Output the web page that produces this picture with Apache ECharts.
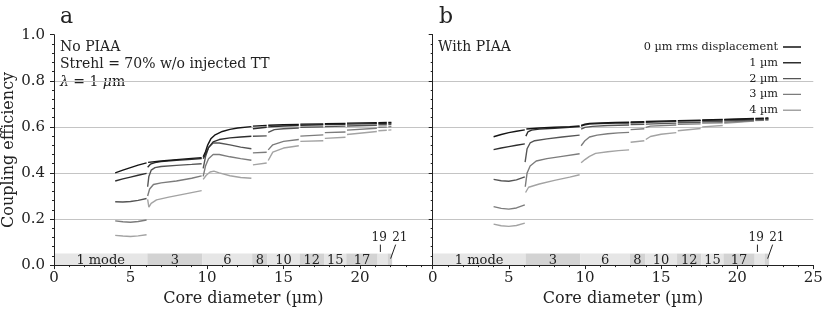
<!DOCTYPE html>
<html><head><meta charset="utf-8">
<script src="https://cdn.jsdelivr.net/npm/echarts@6/dist/echarts.min.js"></script>
<style>html,body{margin:0;padding:0;background:#fff}#c{width:831px;height:312px}</style>
</head><body><div id="c"></div>
<script>
const FONT = '"DejaVu Serif"';
const seriesNames = ['0 µm rms displacement', '1 µm', '2 µm', '3 µm', '4 µm'];
const lineColors = ['#151515', '#2e2e2e', '#555555', '#7c7c7c', '#a3a3a3'];
const xTicks = [0, 5, 10, 15, 20, 25];
const yTicks = [0, 0.2, 0.4, 0.6, 0.8, 1.0];

// mode bands (core diameter ranges, µm)
const modeStarts = [0, 6.1, 9.7, 12.95, 13.95, 16.05, 17.65, 19.1, 21.15, 21.8];
const modeEnds   = [6.1, 9.7, 12.95, 13.95, 16.05, 17.65, 19.1, 21.15, 21.8, 22.1];
const modeLabels = ['1 mode', '3', '6', '8', '10', '12', '15', '17', '', ''];
const bandTop = 0.05;
const calloutLabels = ['19', '21'];
const calloutText = [[21.25, 0.118], [22.6, 0.118]];
const calloutLines = [[21.33, 0.089, 21.33, 0.057], [22.33, 0.089, 22.0, 0.028]];

// Panel a: No PIAA  (segments between mode cutoffs)
const noPiaa0 = [
  [[4,.400],[4.5,.412],[5,.423],[5.5,.434],[6.05,.444]],
  [[6.15,.446],[7,.452],[8,.458],[9,.463],[9.65,.466]],
  [[9.75,.470],[9.9,.492],[10.05,.522],[10.25,.548],[10.5,.564],[11,.580],[11.5,.589],[12,.595],[12.9,.601]],
  [[13,.603],[13.9,.606]],
  [[14,.607],[15,.609],[16,.611]],
  [[16.1,.612],[17.6,.613]],
  [[17.7,.614],[19.05,.615]],
  [[19.15,.616],[21.1,.618]],
  [[21.2,.618],[21.75,.619]],
  [[21.85,.619],[22.05,.619]]
];
const noPiaa1 = [
  [[4,.365],[4.5,.374],[5,.382],[5.5,.390],[6.05,.398]],
  [[6.12,.425],[6.3,.438],[6.6,.445],[7,.449],[8,.455],[9,.459],[9.65,.462]],
  [[9.75,.462],[9.9,.480],[10.1,.510],[10.4,.535],[10.8,.545],[11.5,.552],[12.2,.556],[12.9,.559]],
  [[13,.592],[13.9,.598]],
  [[14,.600],[15,.604],[16,.606]],
  [[16.1,.607],[17.6,.609]],
  [[17.7,.610],[19.05,.611]],
  [[19.15,.612],[21.1,.614]],
  [[21.2,.615],[21.75,.615]],
  [[21.85,.616],[22.05,.616]]
];
const noPiaa2 = [
  [[4,.275],[4.5,.274],[5,.276],[5.5,.281],[6.05,.289]],
  [[6.12,.340],[6.2,.385],[6.35,.412],[6.6,.423],[7,.428],[8,.433],[9,.437],[9.65,.440]],
  [[9.75,.420],[9.9,.470],[10.1,.510],[10.4,.530],[10.8,.530],[11.5,.522],[12.2,.512],[12.9,.505]],
  [[13,.559],[13.9,.561]],
  [[14,.576],[14.4,.588],[15,.592],[16,.595]],
  [[16.1,.598],[17.6,.600]],
  [[17.7,.601],[19.05,.603]],
  [[19.15,.604],[21.1,.607]],
  [[21.2,.609],[21.75,.609]],
  [[21.85,.610],[22.05,.610]]
];
const noPiaa3 = [
  [[4,.192],[4.5,.188],[5,.186],[5.5,.189],[6.05,.196]],
  [[6.12,.300],[6.25,.330],[6.5,.350],[7,.357],[8,.365],[9,.377],[9.65,.387]],
  [[9.75,.385],[9.9,.430],[10.1,.462],[10.4,.480],[10.8,.480],[11.5,.470],[12.2,.462],[12.9,.455]],
  [[13,.487],[13.9,.490]],
  [[14,.500],[14.3,.522],[15,.537],[16,.545]],
  [[16.1,.560],[17.6,.565]],
  [[17.7,.575],[19.05,.578]],
  [[19.15,.586],[21.1,.594]],
  [[21.2,.598],[21.75,.599]],
  [[21.85,.600],[22.05,.601]]
];
const noPiaa4 = [
  [[4,.129],[4.5,.126],[5,.124],[5.5,.127],[6.05,.132]],
  [[6.12,.285],[6.2,.252],[6.35,.268],[6.7,.283],[7.5,.295],[8.5,.308],[9.65,.323]],
  [[9.75,.372],[9.95,.390],[10.2,.404],[10.45,.408],[10.8,.400],[11.5,.388],[12.2,.380],[12.9,.377]],
  [[13,.435],[13.9,.443]],
  [[14,.454],[14.3,.490],[15,.508],[16,.518]],
  [[16.1,.537],[17.6,.540]],
  [[17.7,.550],[19.05,.555]],
  [[19.15,.567],[21.1,.580]],
  [[21.2,.583],[21.75,.585]],
  [[21.85,.586],[22.05,.587]]
];

// Panel b: With PIAA
const piaa0 = [
  [[4,.557],[4.5,.567],[5,.575],[5.5,.581],[6.05,.587]],
  [[6.15,.591],[7,.595],[8,.598],[9,.601],[9.65,.604]],
  [[9.75,.606],[10,.612],[10.3,.615],[11,.617],[12,.619],[12.9,.620]],
  [[13,.621],[13.9,.622]],
  [[14,.623],[16,.627]],
  [[16.1,.627],[17.6,.629]],
  [[17.7,.630],[19.05,.632]],
  [[19.15,.632],[21.1,.636]],
  [[21.2,.637],[21.75,.638]],
  [[21.85,.638],[22.05,.639]]
];
const piaa1 = [
  [[4,.501],[4.5,.508],[5,.514],[5.5,.520],[6.05,.526]],
  [[6.12,.560],[6.25,.578],[6.5,.586],[7,.590],[8,.594],[9,.598],[9.65,.601]],
  [[9.75,.603],[10,.609],[10.3,.612],[11,.614],[12,.616],[12.9,.617]],
  [[13,.618],[13.9,.619]],
  [[14,.620],[16,.624]],
  [[16.1,.625],[17.6,.627]],
  [[17.7,.628],[19.05,.630]],
  [[19.15,.631],[21.1,.634]],
  [[21.2,.635],[21.75,.635]],
  [[21.85,.636],[22.05,.636]]
];
const piaa2 = [
  [[4,.372],[4.5,.366],[5,.364],[5.5,.370],[6.05,.383]],
  [[6.07,.447],[6.2,.505],[6.4,.530],[6.7,.540],[7.5,.548],[8.5,.556],[9.65,.564]],
  [[9.75,.590],[10,.598],[10.5,.602],[11.5,.606],[12.9,.608]],
  [[13,.610],[13.9,.611]],
  [[14,.612],[16,.616]],
  [[16.1,.618],[17.6,.620]],
  [[17.7,.622],[19.05,.624]],
  [[19.15,.626],[21.1,.630]],
  [[21.2,.632],[21.75,.632]],
  [[21.85,.634],[22.05,.634]]
];
const piaa3 = [
  [[4,.254],[4.5,.246],[5,.243],[5.5,.248],[6.05,.261]],
  [[6.08,.340],[6.2,.400],[6.4,.430],[6.8,.452],[7.5,.462],[8.5,.472],[9.65,.483]],
  [[9.75,.518],[10,.540],[10.3,.556],[10.8,.564],[11.5,.570],[12.2,.574],[12.9,.576]],
  [[13,.588],[13.9,.592]],
  [[14,.598],[14.3,.603],[16,.608]],
  [[16.1,.611],[17.6,.613]],
  [[17.7,.616],[19.05,.618]],
  [[19.15,.620],[21.1,.626]],
  [[21.2,.629],[21.75,.629]],
  [[21.85,.631],[22.05,.631]]
];
const piaa4 = [
  [[4,.178],[4.5,.171],[5,.168],[5.5,.172],[6.05,.182]],
  [[6.1,.315],[6.3,.338],[7,.352],[8,.368],[9,.382],[9.65,.392]],
  [[9.75,.444],[10,.458],[10.3,.472],[10.7,.485],[11.5,.492],[12.2,.497],[12.9,.500]],
  [[13,.533],[13.9,.540]],
  [[14,.545],[14.3,.558],[15,.568],[16,.575]],
  [[16.1,.583],[17.6,.593]],
  [[17.7,.600],[19.05,.606]],
  [[19.15,.615],[21.1,.625]],
  [[21.2,.627],[21.75,.628]],
  [[21.85,.629],[22.05,.629]]
];

const panelA = [noPiaa0, noPiaa1, noPiaa2, noPiaa3, noPiaa4];
const panelB = [piaa0, piaa1, piaa2, piaa3, piaa4];

function flatten(segs) {
  const out = [];
  segs.forEach((s, i) => {
    if (i > 0) out.push([s[0][0], '-']);
    s.forEach(p => out.push(p));
  });
  return out;
}

const chart = echarts.init(document.getElementById('c'), null, {renderer: 'canvas'});
const axisColor = '#222';
const tickStyle = {show: true, inside: false, length: 4, lineStyle: {color: axisColor, width: 1}};
const minorStyle = {show: true, splitNumber: 5, length: 2, lineStyle: {color: axisColor, width: 1}};
const labelFont = {fontFamily: FONT, fontSize: 15, color: axisColor};

function xAxisBottom(grid, max) {
  return {
    type: 'value', gridIndex: grid, min: xTicks[0], max: max, interval: xTicks[1] - xTicks[0],
    axisLine: {show: true, onZero: false, lineStyle: {color: axisColor, width: 1}},
    axisTick: tickStyle, minorTick: minorStyle,
    axisLabel: Object.assign({margin: 6, showMaxLabel: grid === 1, formatter: v => String(v)}, labelFont),
    splitLine: {show: false},
    name: 'Core diameter (µm)', nameLocation: 'middle', nameGap: 22,
    nameTextStyle: {fontFamily: FONT, fontSize: 16, color: axisColor}, z: 3
  };
}
function frameAxisX(grid, max) {
  return {type: 'value', gridIndex: grid, position: 'top', min: 0, max: max,
    axisLine: {show: true, lineStyle: {color: axisColor, width: 1}},
    axisTick: {show: false}, axisLabel: {show: false}, splitLine: {show: false}, z: 3};
}
function yAxisMain(grid, showLabels) {
  return {
    type: 'value', gridIndex: grid, min: yTicks[0], max: yTicks[yTicks.length - 1], interval: yTicks[1] - yTicks[0],
    axisLine: {show: true, onZero: false, lineStyle: {color: axisColor, width: 1}},
    axisTick: tickStyle, minorTick: minorStyle,
    axisLabel: Object.assign({show: showLabels, margin: 9, formatter: v => v.toFixed(1)}, labelFont),
    splitLine: {show: true, showMinLine: false, showMaxLine: false, lineStyle: {color: '#c4c4c4', width: 1}},
    name: showLabels ? 'Coupling efficiency' : '', nameLocation: 'middle', nameGap: 37,
    nameTextStyle: {fontFamily: FONT, fontSize: 16, color: axisColor}, z: 3
  };
}
function frameAxisY(grid) {
  return {type: 'value', gridIndex: grid, position: 'right', min: 0, max: 1,
    axisLine: {show: true, lineStyle: {color: axisColor, width: 1}},
    axisTick: {show: false}, axisLabel: {show: false}, splitLine: {show: false}, z: 3};
}

function bandSeries(xi, yi) {
  return {
    type: 'custom', xAxisIndex: xi, yAxisIndex: yi, silent: true, z: 1,
    data: modeStarts.map((s, i) => [s, modeEnds[i], i]),
    renderItem: function (params, api) {
      const i = api.value(2);
      const p0 = api.coord([api.value(0), bandTop]);
      const p1 = api.coord([api.value(1), 0]);
      return {type: 'group', children: [
        {type: 'rect', shape: {x: p0[0], y: p0[1], width: p1[0] - p0[0], height: p1[1] - p0[1]},
          style: {fill: i % 2 ? '#d3d3d3' : '#e6e6e6'}},
        {type: 'text', x: (p0[0] + p1[0]) / 2, y: (p0[1] + p1[1]) / 2 + 1,
          style: {text: modeLabels[i], fill: axisColor, font: '13px ' + FONT, align: 'center', verticalAlign: 'middle'}}
      ]};
    }
  };
}
function calloutSeries(xi, yi) {
  return {
    type: 'custom', xAxisIndex: xi, yAxisIndex: yi, silent: true, z: 2,
    data: calloutLabels.map((l, i) => [calloutText[i][0], calloutText[i][1]].concat(calloutLines[i], [i])),
    renderItem: function (params, api) {
      const i = api.value(6);
      const t = api.coord([api.value(0), api.value(1)]);
      const a = api.coord([api.value(2), api.value(3)]);
      const b = api.coord([api.value(4), api.value(5)]);
      return {type: 'group', children: [
        {type: 'line', shape: {x1: a[0], y1: a[1], x2: b[0], y2: b[1]}, style: {stroke: axisColor, lineWidth: 1}},
        {type: 'text', x: t[0], y: t[1], style: {text: calloutLabels[i], fill: axisColor, font: '12px ' + FONT, align: 'center', verticalAlign: 'middle'}}
      ]};
    }
  };
}

const series = [bandSeries(0, 0), calloutSeries(0, 0), bandSeries(2, 1), calloutSeries(2, 1)];
panelA.forEach((segs, k) => series.push({
  name: seriesNames[k], type: 'line', xAxisIndex: 0, yAxisIndex: 0, data: flatten(segs),
  symbol: 'none', connectNulls: false, z: 4 + (4 - k),
  lineStyle: {color: lineColors[k], width: 1.4}, itemStyle: {color: lineColors[k]}
}));
panelB.forEach((segs, k) => series.push({
  name: seriesNames[k], type: 'line', xAxisIndex: 2, yAxisIndex: 1, data: flatten(segs),
  symbol: 'none', connectNulls: false, z: 4 + (4 - k),
  lineStyle: {color: lineColors[k], width: 1.4}, itemStyle: {color: lineColors[k]}
}));

chart.setOption({
  animation: false,
  backgroundColor: '#fff',
  grid: [
    {left: 53.3, top: 34.7, width: 379.4, height: 232.6},
    {left: 432.7, top: 34.7, width: 380.6, height: 232.6}
  ],
  xAxis: [xAxisBottom(0, 24.75), frameAxisX(0, 24.75), xAxisBottom(1, 25), frameAxisX(1, 25)],
  yAxis: [yAxisMain(0, true), yAxisMain(1, false), frameAxisY(1)],
  legend: {
    data: seriesNames, orient: 'vertical', right: 25, top: 36, align: 'right',
    icon: 'path://M0,0h18v0.01h-18zM0,5.3h18v1.4h-18zM0,12h18v0.01h-18z',
    itemWidth: 18, itemHeight: 12, itemGap: 3.8, selectedMode: false,
    textStyle: {fontFamily: FONT, fontSize: 11.3, color: axisColor}
  },
  graphic: [
    {type: 'text', x: 60, y: 28, style: {text: 'a', font: '22px ' + FONT, fill: axisColor, verticalAlign: 'bottom'}},
    {type: 'text', x: 439, y: 28, style: {text: 'b', font: '22px ' + FONT, fill: axisColor, verticalAlign: 'bottom'}},
    {type: 'text', x: 60, y: 47, style: {text: 'No PIAA', font: '14px ' + FONT, fill: axisColor, verticalAlign: 'middle'}},
    {type: 'text', x: 60, y: 64.5, style: {text: 'Strehl = 70% w/o injected TT', font: '14px ' + FONT, fill: axisColor, verticalAlign: 'middle'}},
    {type: 'text', x: 60, y: 82, style: {text: '{i|λ} = 1 {i|μ}m', font: '14px ' + FONT, fill: axisColor, verticalAlign: 'middle',
      rich: {i: {fontFamily: FONT, fontStyle: 'italic', fontSize: 14, fill: axisColor}}}},
    {type: 'text', x: 438, y: 47, style: {text: 'With PIAA', font: '14px ' + FONT, fill: axisColor, verticalAlign: 'middle'}}
  ],
  series: series
});
</script>
</body></html>
